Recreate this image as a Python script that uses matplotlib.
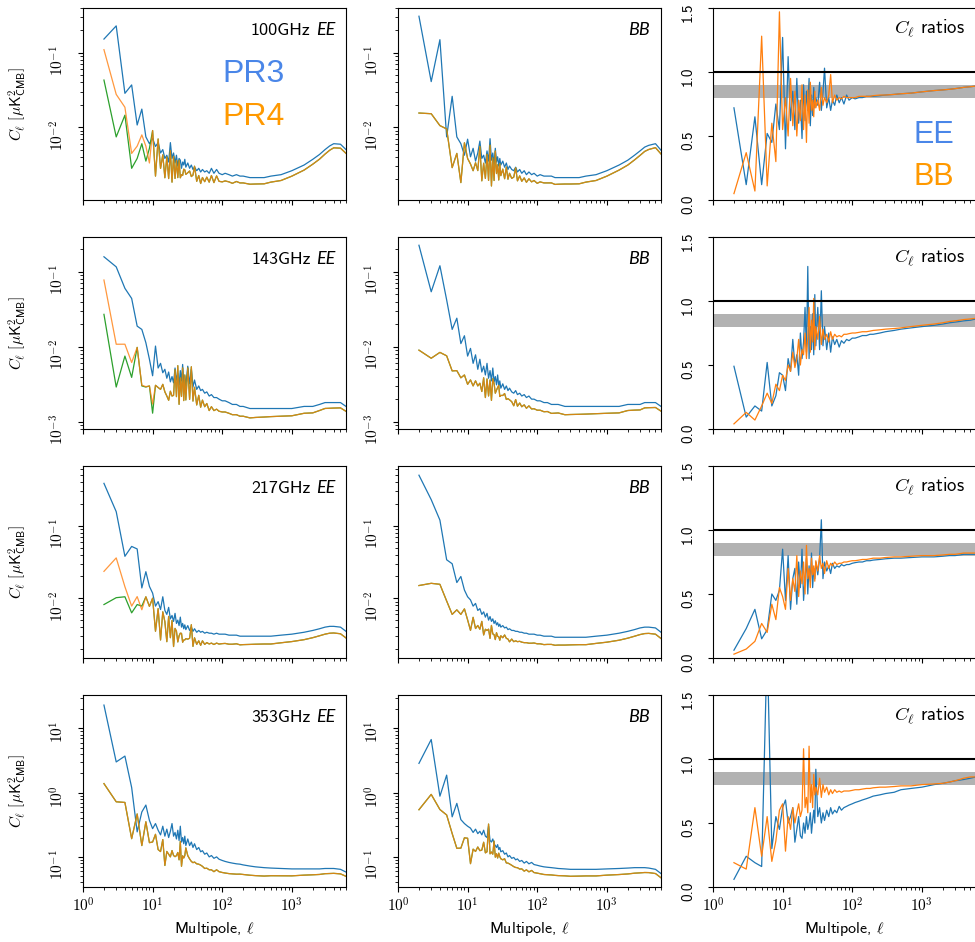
import numpy as np
import matplotlib
matplotlib.use("Agg")
import matplotlib.pyplot as plt
from matplotlib.ticker import FuncFormatter, NullFormatter, FormatStrFormatter

plt.rcParams['mathtext.fontset'] = 'cm'
plt.rcParams['font.family'] = ['cmss10', 'DejaVu Sans']

# multipoles: every ell up to 30, sparser above
ell = np.array(list(range(2, 31)) + [32, 34, 36, 38, 40, 43, 46, 49, 52, 56, 60, 65, 70, 76, 83,
                                     90, 100, 110, 125, 140, 160, 180, 200, 250, 300, 400, 500,
                                     700, 1000, 1500, 2000, 2500, 3000, 3500, 4000, 5000, 6000])

freqs = ["100GHz", "143GHz", "217GHz", "353GHz"]

# ---- 100 GHz ----
ee100_pr3 = [0.153, 0.23, 0.0285, 0.037, 0.0107, 0.0175, 0.0074, 0.0060, 0.0071, 0.0055, 0.0062, 0.0045, 0.0050, 0.0038, 0.0042,
             0.0034, 0.0062, 0.0038, 0.0045, 0.0033, 0.0042, 0.0030, 0.0038, 0.0036, 0.0028, 0.0034, 0.0031, 0.0037, 0.0029,
             0.0033, 0.0028, 0.0031, 0.0027, 0.0029, 0.0026, 0.0028, 0.0025, 0.0027, 0.0025, 0.0026, 0.0024, 0.0028, 0.0024,
             0.0027, 0.0024, 0.0023, 0.0024, 0.0023, 0.0022, 0.0023, 0.0022, 0.0022, 0.0021, 0.0021, 0.0021, 0.0022, 0.0023,
             0.0026, 0.0031, 0.0037, 0.0043, 0.0050, 0.0056, 0.0060, 0.0059, 0.0050]
ee100_ratio = [0.72, 0.12, 0.65, 0.12, 0.52, 0.45, 0.75, 0.55, 1.27, 0.40, 1.12, 0.62, 0.85, 0.55, 0.95, 0.60, 0.78, 0.48,
               0.90, 0.62, 0.85, 0.70, 0.95, 0.58, 0.82, 0.66, 0.88, 0.72, 0.80,
               0.74, 0.92, 0.70, 0.84, 1.03, 0.72, 0.80, 0.70, 0.78, 0.74, 0.82, 0.76, 0.80, 0.75, 0.82, 0.78, 0.80, 0.79,
               0.80, 0.80, 0.81, 0.81, 0.81, 0.815, 0.82, 0.825, 0.83, 0.835, 0.845, 0.855, 0.86, 0.865, 0.87, 0.875,
               0.88, 0.885, 0.89]
ee100_alt = [0.043, 0.0074, 0.0145, 0.0028, 0.0038, 0.0060, 0.0035, 0.0052]
bb100_pr3 = [0.31, 0.041, 0.15, 0.0074, 0.026, 0.0074, 0.0060, 0.0042, 0.0069, 0.0040, 0.0052, 0.0035, 0.0045, 0.0065, 0.0038,
             0.0042, 0.0033, 0.0048, 0.0035, 0.0070, 0.0036, 0.0045, 0.0032, 0.0052, 0.0034, 0.0040, 0.0030, 0.0038, 0.0031,
             0.0035, 0.0029, 0.0033, 0.0027, 0.0030, 0.0027, 0.0026, 0.0029, 0.0025, 0.0027, 0.0024, 0.0026, 0.0023, 0.0025,
             0.0023, 0.0024, 0.0022, 0.0023, 0.0022, 0.0022, 0.0022, 0.0021, 0.0021, 0.0021, 0.0021, 0.0021, 0.0022, 0.0023,
             0.0026, 0.0031, 0.0036, 0.0042, 0.0048, 0.0054, 0.0057, 0.0060, 0.0049]
bb100_ratio = [0.05, 0.37, 0.07, 1.28, 0.11, 0.60, 0.30, 1.47, 0.55, 0.80, 0.50, 0.95, 0.58, 0.85, 0.50, 0.78, 0.62, 0.90,
               0.55, 0.82, 0.45, 0.86, 0.60, 0.92, 0.70, 0.78, 0.65, 0.85, 0.72,
               0.78, 0.70, 0.88, 0.74, 0.80, 0.76, 0.82, 0.98, 0.76, 0.82, 0.78, 0.80, 0.79, 0.81, 0.80, 0.80, 0.80,
               0.80, 0.81, 0.81, 0.81, 0.81, 0.815, 0.82, 0.82, 0.825, 0.83, 0.835, 0.845, 0.855, 0.86, 0.865, 0.87,
               0.875, 0.88, 0.885, 0.89]

# ---- 143 GHz ----
ee143_pr3 = [0.158, 0.116, 0.060, 0.044, 0.0188, 0.017, 0.0113, 0.0068, 0.0041, 0.0102, 0.0052, 0.0060, 0.0045, 0.0050,
             0.0038, 0.0046, 0.0034, 0.0040, 0.0033, 0.0052, 0.0036, 0.0044, 0.0031, 0.0048, 0.0035, 0.0058, 0.0033, 0.0040,
             0.0030,
             0.0055, 0.0032, 0.0050, 0.0029, 0.0036, 0.0027, 0.0030, 0.0026, 0.0027, 0.0024, 0.0025, 0.0022, 0.0023, 0.0021,
             0.0021, 0.0020, 0.0019, 0.0019, 0.0018, 0.0017, 0.0017, 0.0016, 0.0016, 0.0015, 0.0015, 0.0015, 0.0015, 0.0015,
             0.0015, 0.0016, 0.0016, 0.0017, 0.0018, 0.0018, 0.0018, 0.0018, 0.0016]
ee143_ratio = [0.49, 0.093, 0.18, 0.14, 0.52, 0.18, 0.26, 0.44, 0.42, 0.30, 0.55, 0.45, 0.70, 0.50, 0.58, 0.42, 0.75, 0.55,
               0.68, 0.95, 0.60, 1.27, 0.55, 0.80, 0.62, 0.90, 0.58, 1.05, 0.65,
               0.95, 0.62, 1.08, 0.65, 0.80, 0.62, 0.75, 0.60, 0.72, 0.66, 0.70, 0.64, 0.69, 0.67, 0.70, 0.69, 0.71, 0.71,
               0.72, 0.73, 0.73, 0.74, 0.74, 0.75, 0.76, 0.77, 0.78, 0.79, 0.80, 0.81, 0.82, 0.83, 0.835, 0.84, 0.845,
               0.85, 0.86]
ee143_alt = [0.027, 0.0029, 0.0075, 0.0039, 0.0098, 0.0030, 0.0029, 0.0030, 0.0013]
bb143_pr3 = [0.225, 0.054, 0.12, 0.042, 0.017, 0.024, 0.011, 0.014, 0.0075, 0.0095, 0.0060, 0.0078, 0.0050, 0.0068, 0.0046,
             0.0055, 0.0042, 0.0060, 0.0038, 0.0048, 0.0035, 0.0052, 0.0034, 0.0040, 0.0031, 0.0042, 0.0030, 0.0035, 0.0028,
             0.0032, 0.0027, 0.0030, 0.0026, 0.0028, 0.0025, 0.0024, 0.0026, 0.0023, 0.0024, 0.0022, 0.0023, 0.0021, 0.0022,
             0.0020, 0.0020, 0.0019, 0.0019, 0.0018, 0.0018, 0.0017, 0.0017, 0.0017, 0.0016, 0.0016, 0.0016, 0.0016, 0.0016,
             0.0016, 0.0016, 0.0017, 0.0017, 0.0017, 0.0018, 0.0018, 0.0018, 0.0016]
bb143_ratio = [0.04, 0.13, 0.07, 0.18, 0.28, 0.20, 0.35, 0.30, 0.42, 0.38, 0.50, 0.45, 0.60, 0.48, 0.55, 0.70, 0.50, 0.62,
               0.58, 0.75, 0.55, 0.72, 0.95, 0.60, 0.85, 0.68, 1.02, 0.62, 0.80,
               0.70, 0.88, 0.66, 0.78, 0.70, 0.74, 0.68, 0.76, 0.70, 0.74, 0.72, 0.73, 0.72, 0.74, 0.74, 0.745, 0.75, 0.75,
               0.755, 0.76, 0.76, 0.765, 0.77, 0.775, 0.78, 0.785, 0.79, 0.80, 0.81, 0.82, 0.83, 0.84, 0.845, 0.85,
               0.855, 0.86, 0.865]

# ---- 217 GHz ----
ee217_pr3 = [0.386, 0.157, 0.038, 0.052, 0.048, 0.0139, 0.0233, 0.0146, 0.0118, 0.0078, 0.0090, 0.0070, 0.0105, 0.0068,
             0.0060, 0.0075, 0.0052, 0.0058, 0.0048, 0.0062, 0.0045, 0.0050, 0.0042, 0.0055, 0.0040, 0.0045, 0.0038, 0.0043,
             0.0037,
             0.0042, 0.0036, 0.0040, 0.0035, 0.0038, 0.0034, 0.0036, 0.0034, 0.0035, 0.0033, 0.0034, 0.0033, 0.0033, 0.0032,
             0.0033, 0.0032, 0.0032, 0.0032, 0.0031, 0.0031, 0.0031, 0.0030, 0.0030, 0.0030, 0.0030, 0.0030, 0.0030, 0.0031,
             0.0032, 0.0034, 0.0036, 0.0038, 0.0040, 0.0041, 0.0041, 0.0040, 0.0035]
ee217_ratio = [0.061, 0.23, 0.38, 0.15, 0.22, 0.50, 0.45, 0.53, 0.85, 0.45, 0.80, 0.38, 0.62, 0.70, 0.42, 0.75, 0.55, 0.85,
               0.45, 0.62, 0.78, 0.50, 0.72, 0.60, 0.82, 0.55, 0.70, 0.62, 0.75,
               0.65, 0.78, 1.08, 0.62, 0.75, 0.68, 0.72, 0.66, 0.74, 0.70, 0.72, 0.71, 0.73, 0.72, 0.73, 0.73, 0.74,
               0.745, 0.75, 0.75, 0.76, 0.76, 0.765, 0.77, 0.775, 0.78, 0.78, 0.785, 0.79, 0.79, 0.795, 0.80, 0.80,
               0.805, 0.81, 0.81, 0.81]
ee217_alt = [0.0082, 0.0102, 0.0105, 0.0063, 0.0082, 0.0078]
bb217_pr3 = [0.50, 0.23, 0.12, 0.034, 0.030, 0.0165, 0.020, 0.013, 0.0105, 0.0095, 0.0078, 0.0085, 0.0068, 0.0072, 0.0060,
             0.0065, 0.0055, 0.0062, 0.0050, 0.0056, 0.0048, 0.0052, 0.0045, 0.0049, 0.0043, 0.0046, 0.0041, 0.0044, 0.0040,
             0.0042, 0.0039, 0.0040, 0.0037, 0.0038, 0.0036, 0.0036, 0.0035, 0.0035, 0.0034, 0.0034, 0.0033, 0.0033, 0.0032,
             0.0032, 0.0032, 0.0031, 0.0031, 0.0030, 0.0030, 0.0030, 0.0029, 0.0029, 0.0029, 0.0029, 0.0029, 0.0029, 0.0030,
             0.0031, 0.0033, 0.0035, 0.0037, 0.0039, 0.0040, 0.0040, 0.0039, 0.0034]
bb217_ratio = [0.03, 0.07, 0.13, 0.27, 0.20, 0.42, 0.30, 0.55, 0.48, 0.38, 0.70, 0.45, 0.62, 0.52, 0.80, 0.48, 0.68, 0.58,
               0.75, 0.50, 0.88, 0.62, 0.70, 0.55, 0.78, 0.65, 0.72, 0.60, 0.76,
               0.68, 0.80, 0.70, 0.74, 0.66, 0.76, 0.70, 0.74, 0.72, 0.75, 0.73, 0.74, 0.74, 0.75, 0.75, 0.755, 0.76,
               0.76, 0.765, 0.77, 0.77, 0.775, 0.78, 0.78, 0.785, 0.79, 0.79, 0.795, 0.80, 0.80, 0.805, 0.81, 0.81,
               0.815, 0.82, 0.82, 0.82]

# ---- 353 GHz ----
ee353_pr3 = [23.0, 3.0, 3.7, 1.2, 0.245, 0.50, 0.64, 0.37, 0.275, 0.33, 0.26, 0.22, 0.30, 0.21, 0.27, 0.20, 0.25, 0.33,
             0.21, 0.24, 0.19, 0.26, 0.18, 0.30, 0.17, 0.20, 0.16, 0.21, 0.15,
             0.19, 0.15, 0.17, 0.14, 0.16, 0.13, 0.14, 0.12, 0.125, 0.11, 0.115, 0.10, 0.105, 0.095, 0.10, 0.092, 0.088,
             0.085, 0.082, 0.080, 0.078, 0.077, 0.075, 0.072, 0.070, 0.068, 0.067, 0.066, 0.065, 0.065, 0.065, 0.065,
             0.066, 0.066, 0.066, 0.064, 0.058]
ee353_ratio = [0.06, 0.24, 0.19, 0.16, 1.9, 0.30, 0.55, 0.45, 0.62, 0.68, 0.50, 0.55, 0.62, 0.35, 0.45, 0.55, 0.40, 0.38,
               0.50, 0.42, 0.55, 0.45, 0.50, 0.58, 0.42, 0.52, 0.60, 0.50, 0.92,
               0.55, 0.62, 0.50, 0.58, 0.52, 0.60, 0.55, 0.62, 0.57, 0.60, 0.58, 0.63, 0.60, 0.62, 0.63, 0.64, 0.65,
               0.66, 0.67, 0.68, 0.69, 0.70, 0.71, 0.72, 0.73, 0.74, 0.76, 0.77, 0.78, 0.80, 0.81, 0.82, 0.83, 0.835,
               0.84, 0.85, 0.86]
ee353_alt = []
bb353_pr3 = [2.85, 6.7, 0.88, 1.87, 0.42, 0.68, 0.38, 0.33, 0.30, 0.28, 0.24, 0.27, 0.23, 0.25, 0.22, 0.26, 0.21, 0.20,
             0.30, 0.18, 0.17, 0.19, 0.16, 0.15, 0.14, 0.155, 0.13, 0.14, 0.12,
             0.125, 0.11, 0.115, 0.10, 0.105, 0.095, 0.098, 0.090, 0.093, 0.085, 0.088, 0.080, 0.085, 0.078, 0.082,
             0.076, 0.074, 0.072, 0.070, 0.069, 0.068, 0.067, 0.066, 0.065, 0.064, 0.064, 0.064, 0.064, 0.065, 0.066,
             0.067, 0.068, 0.068, 0.068, 0.067, 0.064, 0.055]
bb353_ratio = [0.19, 0.14, 0.62, 0.24, 0.55, 0.20, 0.36, 0.60, 0.65, 0.28, 0.55, 0.45, 0.62, 0.50, 0.58, 0.65, 0.55, 0.60,
               1.08, 0.62, 0.70, 0.58, 1.10, 0.66, 0.80, 0.62, 0.88, 0.72, 0.78,
               0.72, 0.85, 0.70, 0.80, 0.74, 0.78, 0.72, 0.76, 0.73, 0.76, 0.74, 0.75, 0.74, 0.75, 0.75, 0.75, 0.755,
               0.76, 0.76, 0.765, 0.77, 0.77, 0.775, 0.78, 0.78, 0.785, 0.79, 0.79, 0.80, 0.805, 0.81, 0.82, 0.83,
               0.84, 0.85, 0.86, 0.86]

ee_pr3 = [ee100_pr3, ee143_pr3, ee217_pr3, ee353_pr3]
ee_ratio = [ee100_ratio, ee143_ratio, ee217_ratio, ee353_ratio]
ee_alt = [ee100_alt, ee143_alt, ee217_alt, ee353_alt]
bb_pr3 = [bb100_pr3, bb143_pr3, bb217_pr3, bb353_pr3]
bb_ratio = [bb100_ratio, bb143_ratio, bb217_ratio, bb353_ratio]

ylims = [(1.05e-3, 0.4), (8e-4, 0.29), (1.5e-3, 0.67), (0.034, 33)]

C_BLUE = "#1f77b4"
C_ORANGE = "#ff7f0e"
C_GREEN = "#2ca02c"
LW = 0.9

W, H = 975, 942
fig = plt.figure(figsize=(W / 100, H / 100), dpi=100)
renderer = fig.canvas.get_renderer()
col_left = [83, 398, 713]
row_top = [8, 237, 466, 695]
aw, ah = 263, 192


def add_ax(c, r):
    return fig.add_axes([col_left[c] / W, 1 - (row_top[r] + ah) / H, aw / W, ah / H])


def pow10(v, pos):
    return r"$10^{%d}$" % int(round(np.log10(v)))


def style(ax, bottom_row, log_y=True):
    ax.set_xscale("log")
    ax.set_xlim(1, 6000)
    ax.xaxis.set_major_formatter(FuncFormatter(pow10))
    ax.xaxis.set_minor_formatter(NullFormatter())
    if log_y:
        ax.yaxis.set_major_formatter(FuncFormatter(pow10))
        ax.yaxis.set_minor_formatter(NullFormatter())
    ax.tick_params(which="both", labelsize=11)
    ax.tick_params(axis="y", labelrotation=90, pad=14.5)
    for t in ax.get_yticklabels():
        t.set_ha("center")
    if bottom_row:
        ax.set_xlabel(r"Multipole, $\ell$", fontsize=11.5)
    else:
        ax.tick_params(axis="x", labelbottom=False)


def corner_label(ax, plain, slanted, y=0.86, fs=13):
    # slanted part in an italic sans, upright part set just to its left
    t = ax.text(0.958, y, slanted, transform=ax.transAxes, ha="right", va="baseline",
                fontsize=fs, family="Lato", style="italic")
    if plain:
        w = t.get_window_extent(renderer).width
        ax.annotate(plain, xy=(0.958, y), xycoords="axes fraction", xytext=(-w - 5, 0),
                    textcoords="offset pixels", ha="right", va="baseline", fontsize=fs)


for r, name in enumerate(freqs):
    last = r == len(freqs) - 1
    e3 = np.array(ee_pr3[r])
    er = np.array(ee_ratio[r])
    e4 = e3 * er
    ealt = np.concatenate([ee_alt[r], e4[len(ee_alt[r]):]])
    b3 = np.array(bb_pr3[r])
    br = np.array(bb_ratio[r])
    b4 = b3 * br

    # EE spectra
    ax = add_ax(0, r)
    ax.set_yscale("log")
    ax.plot(ell, e3, color=C_BLUE, lw=LW)
    ax.plot(ell, ealt, color=C_GREEN, lw=LW)
    ax.plot(ell, e4, color=C_ORANGE, lw=LW, alpha=0.8)
    ax.set_ylim(*ylims[r])
    style(ax, last)
    ax.set_ylabel(r"$C_\ell\ [\mu\mathsf{K}^2_{\mathsf{CMB}}]$", fontsize=11)
    ax.yaxis.set_label_coords(-0.21, 0.5)
    corner_label(ax, name, "EE")

    # BB spectra
    ax = add_ax(1, r)
    ax.set_yscale("log")
    ax.plot(ell, b3, color=C_BLUE, lw=LW)
    ax.plot(ell, b4, color=C_GREEN, lw=LW)
    ax.plot(ell, b4, color=C_ORANGE, lw=LW, alpha=0.8)
    ax.set_ylim(*ylims[r])
    style(ax, last)
    corner_label(ax, "", "BB")

    # PR4 / PR3 ratios
    ax = add_ax(2, r)
    ax.axhspan(0.8, 0.9, color="gray", alpha=0.6, lw=0)
    ax.plot(ell, er, color=C_BLUE, lw=LW)
    ax.plot(ell, br, color=C_ORANGE, lw=LW)
    ax.axhline(1.0, color="k", lw=1.5)
    ax.set_ylim(0, 1.5)
    ax.set_yticks([0, 0.5, 1.0, 1.5])
    ax.yaxis.set_major_formatter(FormatStrFormatter("%.1f"))
    style(ax, last, log_y=False)
    ax.text(0.958, 0.87, r"$C_\ell$ ratios", transform=ax.transAxes,
            ha="right", va="baseline", fontsize=13.5)

# release labels
fig.text(222 / W, 1 - 82 / H, "PR3", color="#4a86e8", fontsize=23, family="Liberation Sans", va="baseline")
fig.text(222 / W, 1 - 125 / H, "PR4", color="#ff9900", fontsize=23, family="Liberation Sans", va="baseline")
fig.text(913 / W, 1 - 143 / H, "EE", color="#4a86e8", fontsize=22, family="Liberation Sans", va="baseline")
fig.text(913 / W, 1 - 185 / H, "BB", color="#ff9900", fontsize=22, family="Liberation Sans", va="baseline")

fig.savefig("out.png", dpi=100)
